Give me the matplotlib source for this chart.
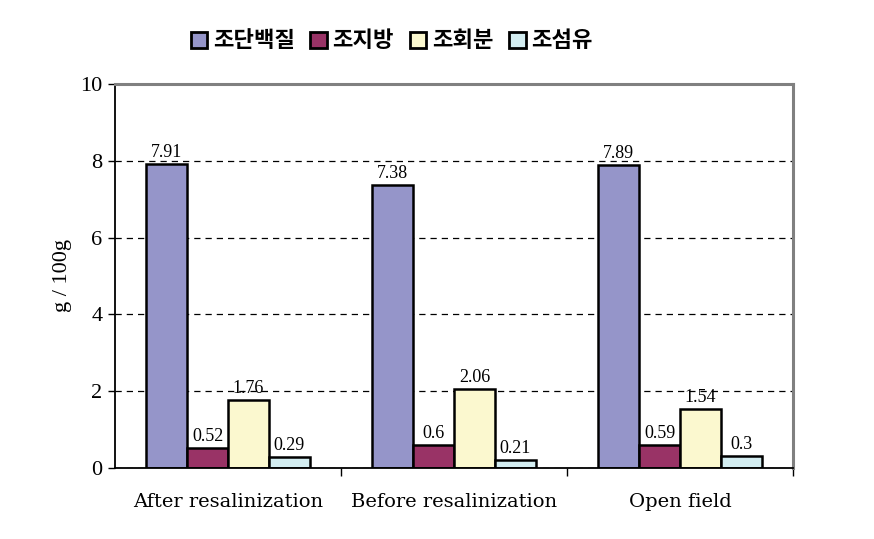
import matplotlib
matplotlib.use("Agg")
import matplotlib.pyplot as plt
import numpy as np

categories = ["After resalinization", "Before resalinization", "Open field"]
series_names = ["조단백질", "조지방", "조회분", "조섬유"]
crude_protein = [7.91, 7.38, 7.89]
crude_fat = [0.52, 0.6, 0.59]
crude_ash = [1.76, 2.06, 1.54]
crude_fiber = [0.29, 0.21, 0.3]
label_texts = [["7.91", "7.38", "7.89"], ["0.52", "0.6", "0.59"],
               ["1.76", "2.06", "1.54"], ["0.29", "0.21", "0.3"]]
colors = ["#9595C9", "#993366", "#FBF8CF", "#D3EDF1"]

series = [crude_protein, crude_fat, crude_ash, crude_fiber]

fig = plt.figure(figsize=(8.74, 5.39), dpi=100)
ax = fig.add_axes([0.1316, 0.1317, 0.7757, 0.7125])

x = np.arange(len(categories))
w = 0.181
for i, (vals, name, c) in enumerate(zip(series, series_names, colors)):
    pos = x + (i - 1.5) * w
    bars = ax.bar(pos, vals, width=w, color=c, edgecolor="black", linewidth=1.8,
                  label=name, zorder=3)
    for b, t in zip(bars, label_texts[i]):
        ax.text(b.get_x() + b.get_width() / 2, b.get_height() + 0.08, t,
                ha="center", va="bottom", fontsize=13, family="Liberation Serif", zorder=4)

ax.set_xlim(-0.5, 2.5)
ax.set_ylim(0, 10)
ax.set_yticks([0, 2, 4, 6, 8, 10])
ax.set_yticklabels(["0", "2", "4", "6", "8", "10"], family="Liberation Serif", fontsize=16)
ax.yaxis.grid(True, linestyle=(0, (5, 4)), color="black", linewidth=0.9, zorder=0)
ax.set_axisbelow(True)

ax.set_xticks(x)
ax.set_xticklabels(categories, family="DejaVu Serif", fontsize=14)
ax.tick_params(axis="x", length=0, pad=18)
ax.set_xticks([0.5, 1.5, 2.5], minor=True)
ax.tick_params(axis="x", which="minor", length=6, width=1, direction="out")
ax.tick_params(axis="y", length=5, width=1, direction="out", pad=4)

for s in ["top", "right"]:
    ax.spines[s].set_color("#808080")
    ax.spines[s].set_linewidth(2.2)
for s in ["left", "bottom"]:
    ax.spines[s].set_color("black")
    ax.spines[s].set_linewidth(1.3)
ax.spines["bottom"].set_zorder(5)

ax.set_ylabel("g / 100g", family="Liberation Serif", fontsize=16, labelpad=6)

leg = fig.legend(loc="center", bbox_to_anchor=(0.448, 0.924), ncol=4, frameon=False,
                 prop={"family": ["Noto Sans CJK KR", "DejaVu Sans"], "weight": "bold", "size": 16},
                 handlelength=0.75, handleheight=0.75, handletextpad=0.25, columnspacing=0.7)
for h in leg.legend_handles:
    h.set_linewidth(2)

fig.savefig("out.png", dpi=100)
